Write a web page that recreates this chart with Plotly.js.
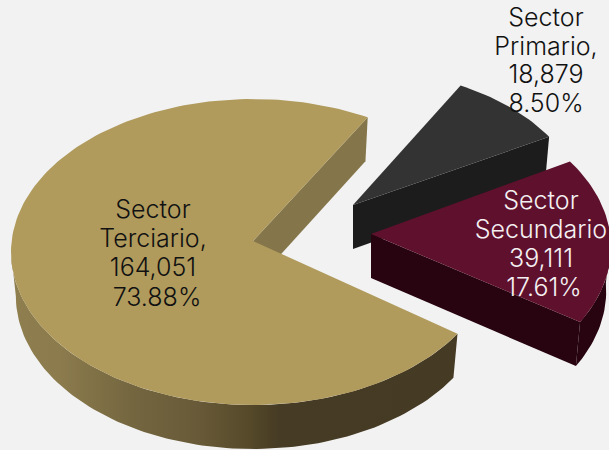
<!DOCTYPE html>
<html><head><meta charset="utf-8">
<script src="https://cdn.plot.ly/plotly-3.0.1.min.js"></script>
<style>html,body{margin:0;padding:0;background:#f2f2f2}#c{width:609px;height:450px}</style>
</head><body><div id="c"></div>
<script>
const sectors = ["Sector Primario", "Sector Secundario", "Sector Terciario"];
const values = [18879, 39111, 164051];
const labelLines = [["Sector", "Primario,", "18,879", "8.50%"], ["Sector", "Secundario", "39,111", "17.61%"], ["Sector", "Terciario,", "164,051", "73.88%"]];
const textColors = ["#111111", "#f4f0f2", "#111111"];
const topColors = ["#333333", "#5f102d", "#b09b5d"];
const wallColors = ["#1c1c1c", "#27040f", "#85754a"];

const total = values.reduce((a, b) => a + b, 0);
const sweep = values.map(v => v / total * 360);
const rad = d => d * Math.PI / 180;
const DEPTH = 44;
const view = [
  {cx: 353, cy: 211, rx: 230, ry: 142, lift: 6, start: 31.5},
  {cx: 371, cy: 247, rx: 240, ry: 153, lift: 13, start: -29.4},
  {cx: 253, cy: 252, rx: 242, ry: 153, lift: 11, start: 61.7}
];
const labelX = [[546, 546, 546, 546], [541, 541, 541, 544], [153, 153, 153, 157]];
const labelY = [[20, 49, 77, 106], [203, 232, 261, 290], [212, 241, 270, 300]];

function pt(v, t, down) {
  const k = down ? 0.98 : 1;
  return [v.cx + k * v.rx * Math.cos(rad(t)), v.cy - v.ry * Math.sin(rad(t)) + (down ? DEPTH : 0)];
}
function arc(v, a, b, down) {
  const out = [], n = Math.max(2, Math.ceil(Math.abs(b - a) / 1.5));
  for (let i = 0; i <= n; i++) out.push(pt(v, a + (b - a) * i / n, down));
  return out;
}
function apex(v, down) {
  return [v.cx, v.cy - v.lift + (down ? DEPTH : 0)];
}
function poly(p, extra) {
  const xs = p.map(q => q[0]), ys = p.map(q => q[1]);
  xs.push(xs[0]); ys.push(ys[0]);
  return Object.assign({type: "scatter", mode: "lines", x: xs, y: ys, fill: "toself",
    line: {width: 0}, hoverinfo: "skip", showlegend: false}, extra);
}

const traces = [];
sectors.forEach((name, i) => {
  const v = view[i], a = v.start, b = v.start + sweep[i];
  const fill = {fillcolor: wallColors[i]};
  traces.push(poly([apex(v), pt(v, a), pt(v, a, true), apex(v, true)], fill));
  if (i === 1) {
    traces.push(poly(arc(v, a, 3).concat(arc(v, 3, a, true)), fill));
  } else if (i === 2) {
    traces.push(poly(arc(v, 180, b).concat(arc(v, b, 180, true)), {
      fillgradient: {type: "horizontal", colorscale: [[0, "#8f7f4f"], [0.11, "#8b7b4d"], [0.27, "#74663f"], [0.42, "#685a38"], [0.54, "#544829"], [0.6, "#463b24"], [1, "#453a23"]]}
    }));
  }
  traces.push(poly([apex(v)].concat(arc(v, a, b)), {fillcolor: topColors[i], name: name}));
});
sectors.forEach((name, i) => {
  traces.push({type: "scatter", mode: "text", x: labelX[i], y: labelY[i], text: labelLines[i],
    textposition: "middle center", hoverinfo: "skip", showlegend: false,
    textfont: {family: "Inter, Lato, sans-serif", size: 25, color: textColors[i], weight: 300}});
});

const hidden = {visible: false, fixedrange: true};
Plotly.newPlot("c", traces, {
  width: 609, height: 450,
  margin: {l: 0, r: 0, t: 0, b: 0},
  paper_bgcolor: "#f2f2f2", plot_bgcolor: "#f2f2f2",
  xaxis: Object.assign({range: [0, 609]}, hidden),
  yaxis: Object.assign({range: [450, 0]}, hidden),
  showlegend: false
}, {displayModeBar: false, staticPlot: true});
</script></body></html>
